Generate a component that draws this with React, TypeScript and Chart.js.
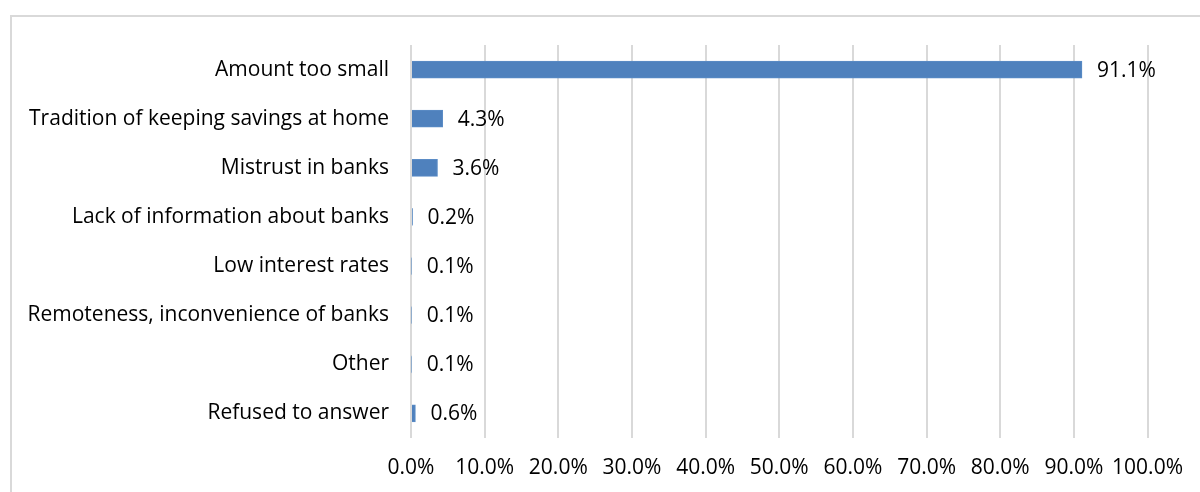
import React, { useEffect, useRef } from "react";
import { Chart, registerables } from "chart.js";

Chart.register(...registerables);

const categories = [
  "Amount too small",
  "Tradition of keeping savings at home",
  "Mistrust in banks",
  "Lack of information about banks",
  "Low interest rates",
  "Remoteness, inconvenience of banks",
  "Other",
  "Refused to answer",
];
const values = [91.1, 4.3, 3.6, 0.2, 0.1, 0.1, 0.1, 0.6];
const xTickStep = 10;
const xMax = 100;

const FONT = "'Open Sans', Lato, sans-serif";
const FONT_SIZE = 21;

const framePlugin = {
  id: "frame",
  beforeDraw(chart: any) {
    const ctx = chart.ctx;
    ctx.save();
    ctx.strokeStyle = "#d9d9d9";
    ctx.lineWidth = 2;
    ctx.beginPath();
    ctx.moveTo(11, 1000);
    ctx.lineTo(11, 16);
    ctx.lineTo(2000, 16);
    ctx.stroke();
    ctx.restore();
  },
};

const labelPlugin = {
  id: "valueLabels",
  afterDatasetsDraw(chart: any) {
    const ctx = chart.ctx;
    const meta = chart.getDatasetMeta(0);
    ctx.save();
    ctx.fillStyle = "#000";
    ctx.font = `${FONT_SIZE}px ${FONT}`;
    ctx.textAlign = "left";
    ctx.textBaseline = "middle";
    meta.data.forEach((bar: any, i: number) => {
      const v = chart.data.datasets[0].data[i] as number;
      ctx.fillText(`${v.toFixed(1)}%`, bar.x + 15, bar.y + 1);
    });
    ctx.restore();
  },
};

export default function App() {
  const ref = useRef<HTMLCanvasElement>(null);
  useEffect(() => {
    if (!ref.current) return;
    const chart = new Chart(ref.current, {
      type: "bar",
      data: {
        labels: categories,
        datasets: [
          {
            data: values,
            backgroundColor: "#4f81bd",
            borderColor: "#5b8cc6",
            borderWidth: 1,
            barThickness: 17,
          },
        ],
      },
      options: {
        indexAxis: "y",
        animation: false,
        responsive: true,
        maintainAspectRatio: false,
        layout: { padding: { top: 45, right: 51, left: 0, bottom: 0 } },
        plugins: { legend: { display: false }, tooltip: { enabled: false } },
        scales: {
          x: {
            min: 0,
            max: xMax,
            ticks: {
              stepSize: xTickStep,
              color: "#000",
              font: { family: FONT, size: FONT_SIZE },
              padding: 17,
              maxRotation: 0,
              autoSkip: false,
              callback: (v: any) => `${Number(v).toFixed(1)}%`,
            },
            grid: { color: "#d9d9d9", lineWidth: 2, drawTicks: false },
            border: { display: false },
            afterFit: (s: any) => {
              s.height = 54;
            },
          },
          y: {
            ticks: {
              color: "#000",
              font: { family: FONT, size: FONT_SIZE },
              padding: 22,
              autoSkip: false,
            },
            grid: { display: false, drawTicks: false },
            border: { display: false },
            afterFit: (s: any) => {
              s.width = 411;
            },
          },
        },
      },
      plugins: [framePlugin, labelPlugin],
    });
    return () => chart.destroy();
  }, []);
  return (
    <div style={{ position: "fixed", left: 0, top: 0, width: 1200, height: 492, background: "#fff" }}>
      <canvas ref={ref} />
    </div>
  );
}
